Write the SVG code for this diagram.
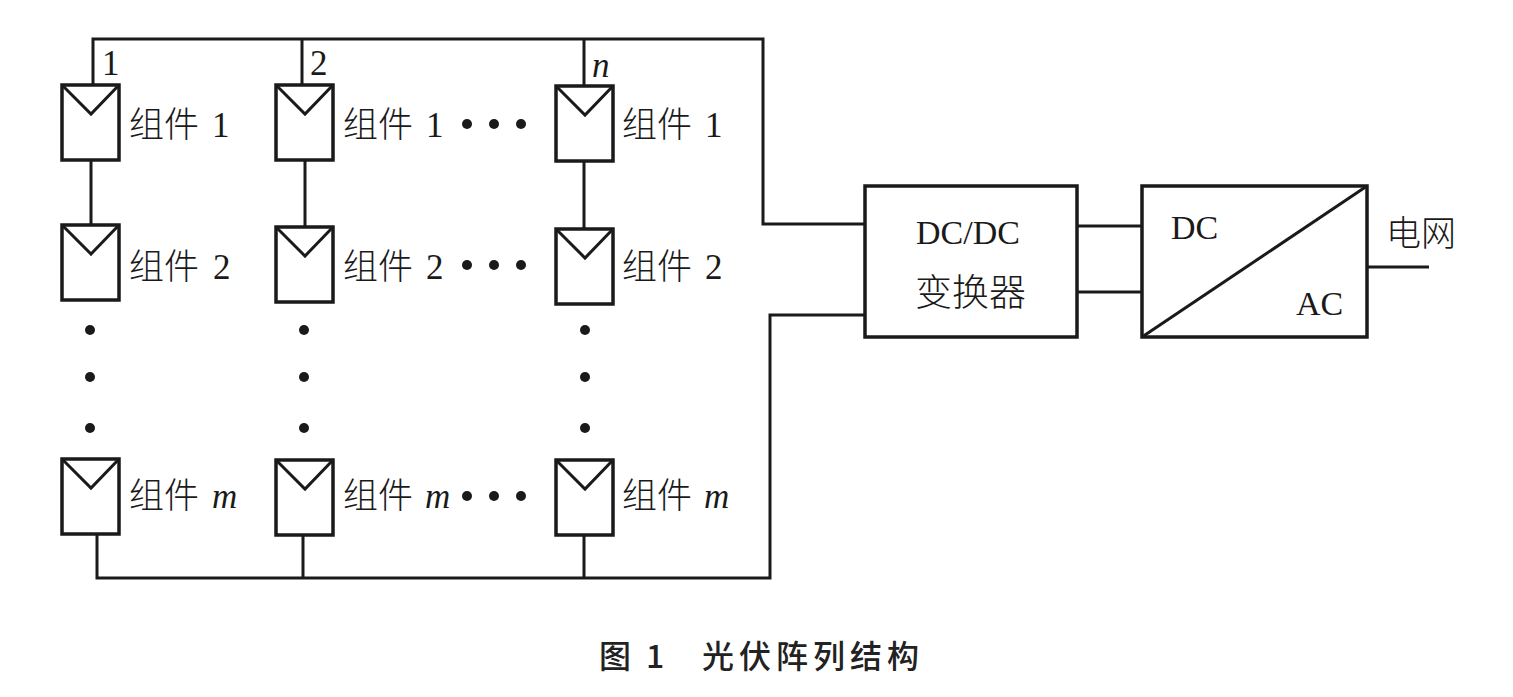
<svg xmlns="http://www.w3.org/2000/svg" width="1513" height="697" viewBox="0 0 1513 697">
<style>
.l{fill:none;stroke:#1a1a1a;stroke-width:3}
.m{fill:#fff;stroke:#1a1a1a;stroke-width:3.5}
.t{font-family:"Noto Sans CJK SC","Liberation Serif",serif;font-size:35px;fill:#1a1a1a;font-weight:300}
.s{font-family:"Liberation Serif",serif;font-size:35px;fill:#1a1a1a}
.b{font-family:"Liberation Serif",serif;font-size:34px;fill:#1a1a1a}
.i{font-family:"Liberation Serif",serif;font-size:35px;fill:#1a1a1a;font-style:italic}
.c{font-family:"Noto Sans CJK SC",sans-serif;font-size:32px;font-weight:500;fill:#222}
.d{fill:#1a1a1a}
</style>
<defs>
<g id="pv"><rect class="m" x="0" y="0" width="57" height="75"/><path class="l" d="M0 0L29 29L57 0"/></g>
</defs>
<rect width="1513" height="697" fill="#fff"/>
<g id="connectors">
<path class="l" d="M93 85V39H763V224H865"/>
<path class="l" d="M302 85V39M584 86V39"/>
<path class="l" d="M91 160V225M305 161V227M584 162V229"/>
<path class="l" d="M97 534V578H770V315H865"/>
<path class="l" d="M303 535V578M584 536V578"/>
<path class="l" d="M1077 226H1142M1077 292H1142M1367 267H1429"/>
</g>
<g id="m11"><use href="#pv" x="62" y="85"/><text class="t" x="129" y="137">组件</text><text class="s" x="212" y="137">1</text></g>
<g id="m21"><use href="#pv" x="62" y="225"/><text class="t" x="129" y="279">组件</text><text class="s" x="213" y="279">2</text></g>
<g id="m31"><use href="#pv" x="62" y="459"/><text class="t" x="129" y="508">组件</text><text class="i" x="212" y="508">m</text></g>
<g id="m12"><use href="#pv" x="276" y="85"/><text class="t" x="343" y="137">组件</text><text class="s" x="426" y="137">1</text></g>
<g id="m22"><use href="#pv" x="276" y="227"/><text class="t" x="343" y="279">组件</text><text class="s" x="426" y="279">2</text></g>
<g id="m32"><use href="#pv" x="276" y="460"/><text class="t" x="343" y="508">组件</text><text class="i" x="425" y="508">m</text></g>
<g id="m13"><use href="#pv" x="556" y="86"/><text class="t" x="622" y="137">组件</text><text class="s" x="705" y="137">1</text></g>
<g id="m23"><use href="#pv" x="556" y="229"/><text class="t" x="622" y="279">组件</text><text class="s" x="705" y="279">2</text></g>
<g id="m33"><use href="#pv" x="556" y="460"/><text class="t" x="622" y="508">组件</text><text class="i" x="704" y="508">m</text></g>
<g id="labels"><text class="s" x="102" y="75">1</text><text class="s" x="310" y="75">2</text><text class="i" x="592" y="77">n</text></g>
<g id="dots" class="d">
<circle cx="467" cy="124" r="5"/><circle cx="494" cy="124" r="5"/><circle cx="521" cy="124" r="5"/>
<circle cx="467" cy="265" r="5"/><circle cx="494" cy="265" r="5"/><circle cx="521" cy="265" r="5"/>
<circle cx="467" cy="496" r="5"/><circle cx="494" cy="496" r="5"/><circle cx="521" cy="496" r="5"/>
<circle cx="90" cy="330" r="5"/><circle cx="90" cy="377" r="5"/><circle cx="90" cy="428" r="5"/>
<circle cx="304" cy="330" r="5"/><circle cx="304" cy="377" r="5"/><circle cx="304" cy="428" r="5"/>
<circle cx="585" cy="330" r="5"/><circle cx="585" cy="377" r="5"/><circle cx="585" cy="428" r="5"/>
</g>
<g id="dcdc"><rect class="m" x="865" y="186" width="212" height="151"/><text class="b" x="916" y="244">DC/DC</text><text class="t" x="915" y="306" style="font-size:37px">变换器</text></g>
<g id="inverter"><rect class="m" x="1142" y="186" width="225" height="151"/><path class="l" d="M1142 337L1367 186"/><text class="b" x="1171" y="239">DC</text><text class="b" x="1296" y="315">AC</text></g>
<g id="grid"><text class="t" x="1386" y="246">电网</text></g>
<g id="caption"><text class="c" x="599" y="668">图</text><text class="c" x="646" y="668">1</text><text class="c" x="702" y="668" letter-spacing="5">光伏阵列结构</text></g>
</svg>
